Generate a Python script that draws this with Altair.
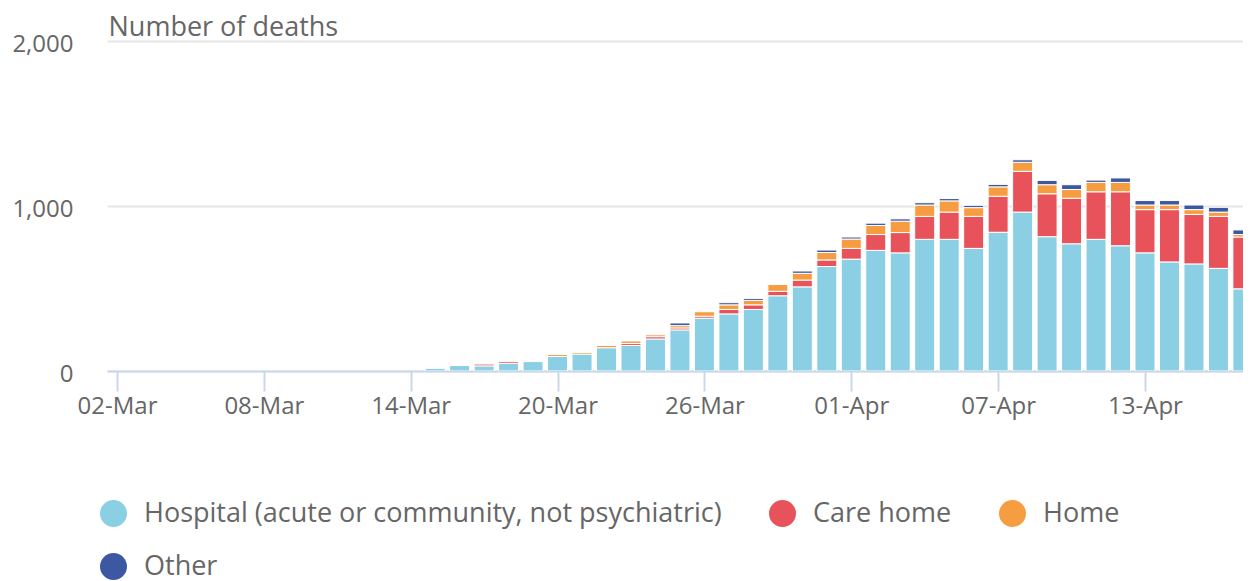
import altair as alt
import pandas as pd

# ---- data ----
dates = pd.date_range("2020-03-02", "2020-04-17", freq="D").strftime("%Y-%m-%dT00:00:00").tolist()

hospital = [0] * 13 + [
    16, 33, 31, 47, 57, 88, 102, 141, 155, 194, 249, 320, 346, 373, 456, 510, 633,
    678, 731, 716, 798, 798, 743, 841, 963, 814, 771, 798, 759, 716, 661, 649, 622, 498,
]
care_home = [0] * 13 + [
    0, 0, 12, 12, 0, 0, 0, 0, 12, 14, 12, 12, 27, 28, 27, 41, 40,
    65, 96, 123, 139, 165, 194, 218, 247, 260, 276, 288, 327, 262, 317, 300, 315, 314,
]
home = [0] * 13 + [
    0, 0, 3, 2, 0, 12, 10, 14, 15, 12, 14, 27, 28, 27, 41, 41, 45,
    57, 55, 69, 69, 68, 53, 57, 55, 55, 53, 57, 57, 28, 28, 29, 26, 15,
]
other = [0] * 13 + [
    0, 0, 0, 0, 0, 0, 0, 0, 0, 4, 16, 0, 13, 12, 0, 14, 15,
    12, 14, 14, 14, 14, 14, 15, 15, 26, 29, 14, 27, 27, 27, 28, 29, 28,
]

series_names = [
    "Hospital (acute or community, not psychiatric)",
    "Care home",
    "Home",
    "Other",
]
series_colors = ["#8ACFE4", "#E8525A", "#F69D42", "#3D58A3"]

tick_dates = ["2020-03-02", "2020-03-08", "2020-03-14", "2020-03-20",
              "2020-03-26", "2020-04-01", "2020-04-07", "2020-04-13"]
y_ticks = [0, 1000, 2000]

# ---- build table ----
rows = []
for k, (name, vals) in enumerate(zip(series_names, [hospital, care_home, home, other])):
    for d, v in zip(dates, vals):
        if v > 0:
            rows.append({"date": d, "series": name, "deaths": v, "order": k})
df = pd.DataFrame(rows)


def dt(s, h=0, m=0):
    y, mo, da = s.split("-")
    return alt.DateTime(year=int(y), month=int(mo), date=int(da), hours=h, minutes=m)


x_values = [dt(s) for s in tick_dates]
x_domain = [dt("2020-03-01", 14, 12), dt("2020-04-17", 0, 6)]

text_color = "#666666"

chart = (
    alt.Chart(df)
    .mark_bar(size=20, stroke="white", strokeWidth=1, clip=True)
    .encode(
        x=alt.X(
            "date:T",
            scale=alt.Scale(domain=x_domain, nice=False, padding=0),
            axis=alt.Axis(
                values=x_values,
                format="%d-%b",
                title=None,
                grid=False,
                labelFontSize=24,
                labelColor=text_color,
                labelPadding=3,
                tickColor="#ccd6eb",
                tickSize=20,
                tickWidth=2,
                domainColor="#ccd6eb",
                domainWidth=2,
            ),
        ),
        y=alt.Y(
            "deaths:Q",
            stack="zero",
            scale=alt.Scale(domain=[0, 2000], nice=False),
            axis=alt.Axis(
                values=y_ticks,
                format=",d",
                ticks=False,
                domain=False,
                labelFontSize=24,
                labelColor=text_color,
                labelPadding=34,
                labelOffset=3,
                gridColor="#e6e6e6",
                gridWidth=2,
                title="Number of deaths",
                titleAngle=0,
                titleAlign="left",
                titleBaseline="alphabetic",
                titleX=1,
                titleY=-6,
                titleFontSize=27,
                titleFontWeight="normal",
                titleColor=text_color,
            ),
        ),
        color=alt.Color(
            "series:N",
            scale=alt.Scale(domain=series_names, range=series_colors),
            legend=alt.Legend(
                title=None,
                orient="none",
                direction="horizontal",
                legendX=-7,
                legendY=459,
                columns=3,
                symbolType="circle",
                symbolSize=729,
                symbolStrokeWidth=0,
                symbolOpacity=1,
                labelFontSize=27,
                labelColor=text_color,
                labelOffset=17,
                columnPadding=47,
                rowPadding=25,
                labelLimit=800,
            ),
        ),
        order=alt.Order("order:Q", sort="ascending"),
    )
    .properties(
        width=1136,
        height=330,
        autosize=alt.AutoSizeParams(type="none"),
        padding={"left": 99, "top": 33, "right": 0, "bottom": 210},
    )
    .configure(font="Open Sans")
    .configure_view(stroke=None)
)

chart.save("out.html", embed_options={"renderer": "svg", "actions": False})
